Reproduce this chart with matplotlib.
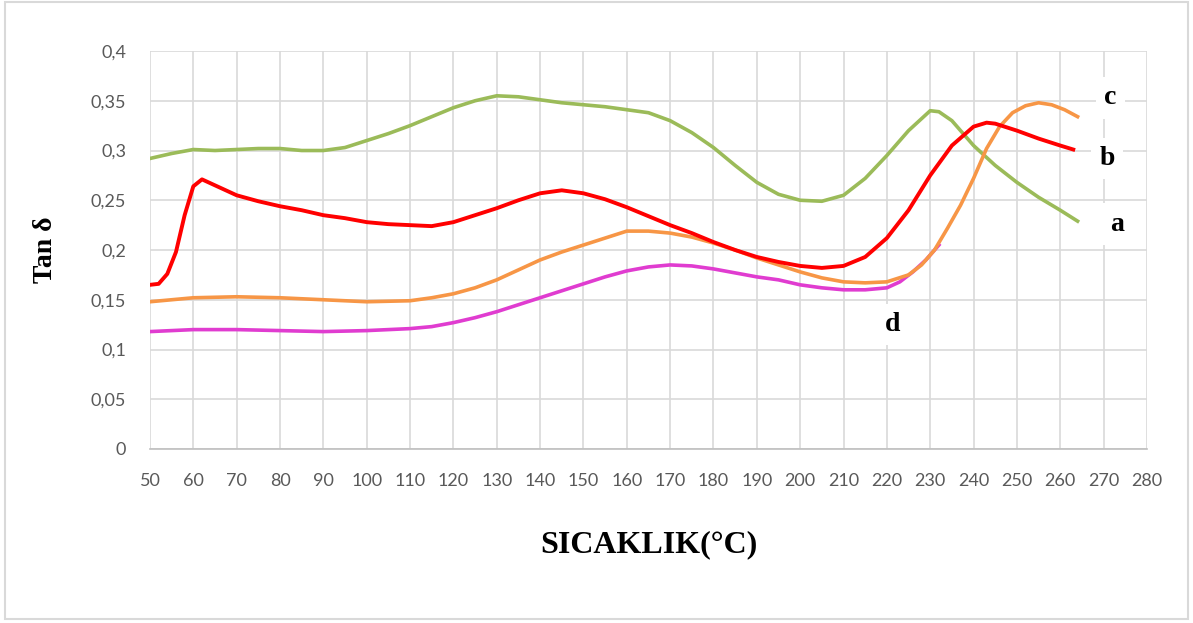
import numpy as np
import matplotlib.pyplot as plt
from matplotlib.patches import Rectangle
from matplotlib.ticker import FuncFormatter

# sample a (green)
temp_a = [50, 55, 60, 65, 70, 75, 80, 85, 90, 95, 100, 105, 110, 115, 120, 125, 130, 135, 140,
          145, 150, 155, 160, 165, 170, 175, 180, 185, 190, 195, 200, 205, 210, 215, 220, 225,
          230, 232, 235, 240, 245, 250, 255, 260, 264]
tan_a = [0.292, 0.297, 0.301, 0.300, 0.301, 0.302, 0.302, 0.300, 0.300, 0.303, 0.310, 0.317,
         0.325, 0.334, 0.343, 0.350, 0.355, 0.354, 0.351, 0.348, 0.346, 0.344, 0.341, 0.338,
         0.330, 0.318, 0.303, 0.285, 0.268, 0.256, 0.250, 0.249, 0.255, 0.272, 0.295, 0.320,
         0.340, 0.339, 0.330, 0.305, 0.285, 0.268, 0.253, 0.240, 0.229]

# sample b (red)
temp_b = [50, 52, 54, 56, 58, 60, 62, 65, 70, 75, 80, 85, 90, 95, 100, 105, 110, 115, 120, 125,
          130, 135, 140, 145, 150, 155, 160, 165, 170, 175, 180, 185, 190, 195, 200, 205, 210,
          215, 220, 225, 230, 235, 240, 243, 245, 250, 255, 260, 263]
tan_b = [0.165, 0.166, 0.176, 0.198, 0.235, 0.264, 0.271, 0.265, 0.255, 0.249, 0.244, 0.240,
         0.235, 0.232, 0.228, 0.226, 0.225, 0.224, 0.228, 0.235, 0.242, 0.250, 0.257, 0.260,
         0.257, 0.251, 0.243, 0.234, 0.225, 0.217, 0.208, 0.200, 0.193, 0.188, 0.184, 0.182,
         0.184, 0.193, 0.212, 0.240, 0.275, 0.305, 0.324, 0.328, 0.327, 0.320, 0.312, 0.305,
         0.301]

# sample c (orange)
temp_c = [50, 60, 70, 80, 90, 100, 110, 115, 120, 125, 130, 135, 140, 145, 150, 155, 160, 165,
          170, 175, 180, 185, 190, 195, 200, 205, 210, 215, 220, 225, 228, 231, 234, 237, 240,
          243, 246, 249, 252, 255, 258, 261, 264]
tan_c = [0.148, 0.152, 0.153, 0.152, 0.150, 0.148, 0.149, 0.152, 0.156, 0.162, 0.170, 0.180,
         0.190, 0.198, 0.205, 0.212, 0.219, 0.219, 0.217, 0.213, 0.207, 0.200, 0.192, 0.185,
         0.178, 0.172, 0.168, 0.167, 0.168, 0.175, 0.185, 0.200, 0.222, 0.245, 0.272, 0.302,
         0.324, 0.338, 0.345, 0.348, 0.346, 0.341, 0.334]

# sample d (magenta)
temp_d = [50, 60, 70, 80, 90, 100, 110, 115, 120, 125, 130, 135, 140, 145, 150, 155, 160, 165,
          170, 175, 180, 185, 190, 195, 200, 205, 210, 215, 220, 223, 226, 229, 232]
tan_d = [0.118, 0.120, 0.120, 0.119, 0.118, 0.119, 0.121, 0.123, 0.127, 0.132, 0.138, 0.145,
         0.152, 0.159, 0.166, 0.173, 0.179, 0.183, 0.185, 0.184, 0.181, 0.177, 0.173, 0.170,
         0.165, 0.162, 0.160, 0.160, 0.162, 0.168, 0.178, 0.190, 0.205]

x_ticks = list(range(50, 290, 10))
y_ticks = [0, 0.05, 0.1, 0.15, 0.2, 0.25, 0.3, 0.35, 0.4]

fig = plt.figure(figsize=(11.93, 6.23), dpi=100)
ax = fig.add_axes([0.1257, 0.2793, 0.8357, 0.6388])

grid_col = "#D9D9D9"
ax.plot(temp_a, tan_a, color="#9BBB59", lw=2.6, zorder=3)
ax.plot(temp_b, tan_b, color="#FF0000", lw=2.8, zorder=4)
ax.plot(temp_d, tan_d, color="#E03CD0", lw=2.6, zorder=3)
ax.plot(temp_c, tan_c, color="#F79646", lw=2.6, zorder=3)

ax.set_xlim(50, 280)
ax.set_ylim(0, 0.4)
ax.set_xticks(x_ticks)
ax.set_yticks(y_ticks)
ax.yaxis.set_major_formatter(FuncFormatter(lambda v, p: ("%g" % v).replace(".", ",")))
ax.grid(True, color=grid_col, lw=1.2, zorder=0)
ax.set_axisbelow(True)
for s in ["top", "right", "left"]:
    ax.spines[s].set_visible(False)
ax.spines["bottom"].set_color("#BFBFBF")
ax.spines["bottom"].set_linewidth(1.2)
ax.tick_params(length=0, labelsize=13, labelcolor="#595959")
ax.tick_params(axis="y", pad=17)
ax.tick_params(axis="x", pad=17)
for lab in ax.get_xticklabels() + ax.get_yticklabels():
    lab.set_family("Lato")

ax.set_xlabel("SICAKLIK(°C)", family="Liberation Serif", fontweight="bold", fontsize=23,
              labelpad=30)
ax.set_ylabel("Tan δ", family="Liberation Serif", fontweight="bold", fontsize=20, labelpad=24)

box = dict(facecolor="white", edgecolor="none", pad=6)
for txt, tx, ty in [("c", 271.5, 0.353), ("b", 270.8, 0.292), ("a", 273.1, 0.226),
                    ("d", 221.4, 0.125)]:
    ax.text(tx, ty, txt, family="Liberation Serif", fontweight="bold", fontsize=20,
            ha="center", va="center", bbox=box, zorder=5)

fig.patches.append(Rectangle((0.004, 0.006), 0.992, 0.99, transform=fig.transFigure,
                             fill=False, edgecolor="#D9D9D9", lw=1.5))

fig.savefig("out.png", dpi=100)
